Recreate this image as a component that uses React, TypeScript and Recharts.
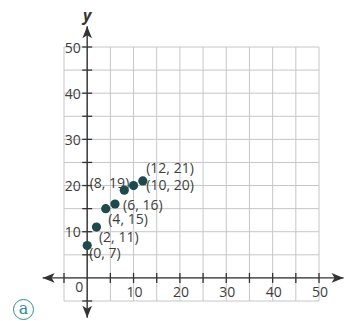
import { ReferenceDot, ReferenceLine, Scatter, ScatterChart, XAxis, YAxis } from "recharts";

// values
const pointX = [0, 2, 4, 6, 8, 10, 12];
const pointY = [7, 11, 15, 16, 19, 20, 21];
const gridTicks = [-5, 0, 5, 10, 15, 20, 25, 30, 35, 40, 45, 50];
const axisMarks = [-5, 5, 10, 15, 20, 25, 30, 35, 40, 45, 50];
const xTickLabels = [10, 20, 30, 40, 50];
const yTickLabels = [10, 20, 30, 40, 50];
const xAxisEnds = [-9.6, 55.3];
const yAxisEnds = [-8.6, 54.5];

// where each point's "(x, y)" label sits relative to its dot
const labelOffsets: [number, number, "start" | "end"][] = [
  [2, 7, "start"],
  [2.5, 9.5, "start"],
  [2.5, 9.5, "start"],
  [8, 0, "start"],
  [5, -8, "end"],
  [12.7, -1, "start"],
  [3.4, -13.4, "start"],
];

const points = pointX.map((x, i) => ({ x, y: pointY[i] }));

const axisColor = "#333333";
const gridColor = "#c6c6c6";
const textColor = "#3d3d3d";
const dotColor = "#1f4a4c";
const fontFamily = "'Open Sans', sans-serif";

function PointLabel(props: any) {
  const { cx, cy, payload } = props;
  const i = pointX.indexOf(payload.x);
  const [dx, dy, anchor] = labelOffsets[i] ?? [4, 0, "start"];
  return (
    <text
      x={cx + dx}
      y={cy + dy}
      textAnchor={anchor}
      dominantBaseline="central"
      fontSize={14}
      fontFamily={fontFamily}
      fill={textColor}
    >
      ({payload.x}, {payload.y})
    </text>
  );
}

function PointDot(props: any) {
  return <circle cx={props.cx} cy={props.cy} r={4.6} fill={dotColor} />;
}

function XMark(props: any) {
  const { cx, cy } = props;
  return <line x1={cx} x2={cx} y1={cy - 5} y2={cy + 5} stroke={axisColor} strokeWidth={1.3} />;
}

function YMark(props: any) {
  const { cx, cy } = props;
  return <line x1={cx - 5} x2={cx + 5} y1={cy} y2={cy} stroke={axisColor} strokeWidth={1.3} />;
}

function arrow(dir: "up" | "down" | "left" | "right") {
  return (props: any) => {
    const { cx, cy } = props;
    const len = 12;
    const half = 4.8;
    const notch = 9;
    let pts = "";
    if (dir === "up") pts = `${cx},${cy} ${cx - half},${cy + len} ${cx},${cy + notch} ${cx + half},${cy + len}`;
    if (dir === "down") pts = `${cx},${cy} ${cx - half},${cy - len} ${cx},${cy - notch} ${cx + half},${cy - len}`;
    if (dir === "left") pts = `${cx},${cy} ${cx + len},${cy - half} ${cx + notch},${cy} ${cx + len},${cy + half}`;
    if (dir === "right") pts = `${cx},${cy} ${cx - len},${cy - half} ${cx - notch},${cy} ${cx - len},${cy + half}`;
    return (
      <g>
        <polygon points={pts} fill={axisColor} />
        {dir === "up" && (
          <text
            x={cx}
            y={cy - 11}
            textAnchor="middle"
            dominantBaseline="central"
            fontSize={16}
            fontWeight="bold"
            fontStyle="italic"
            fontFamily={fontFamily}
            fill={axisColor}
          >
            y
          </text>
        )}
      </g>
    );
  };
}

function XLabel(props: any) {
  const { cx, cy, label } = props;
  return (
    <text x={cx + 1} y={cy + 14} textAnchor="middle" dominantBaseline="central" fontSize={14} fontFamily={fontFamily} fill={textColor}>
      {label}
    </text>
  );
}

function YLabel(props: any) {
  const { cx, cy, label } = props;
  return (
    <text x={cx - 6.5} y={cy} textAnchor="end" dominantBaseline="central" fontSize={14} fontFamily={fontFamily} fill={textColor}>
      {label}
    </text>
  );
}

function OriginLabel(props: any) {
  const { cx, cy } = props;
  return (
    <text x={cx - 8} y={cy + 9} textAnchor="middle" dominantBaseline="central" fontSize={14} fontFamily={fontFamily} fill={textColor}>
      0
    </text>
  );
}

export default function App() {
  return (
    <div style={{ position: "absolute", left: 0, top: 0, width: 347, height: 321, background: "#fff" }}>
      <ScatterChart width={347} height={321} margin={{ top: 47, right: 28, bottom: 20, left: 64 }}>
        <XAxis type="number" dataKey="x" domain={[-5, 50]} allowDataOverflow hide />
        <YAxis type="number" dataKey="y" domain={[-5, 50]} allowDataOverflow hide />
        {gridTicks.map((v) => (
          <ReferenceLine key={`gx${v}`} x={v} stroke={gridColor} strokeWidth={1} ifOverflow="visible" />
        ))}
        {gridTicks.map((v) => (
          <ReferenceLine key={`gy${v}`} y={v} stroke={gridColor} strokeWidth={1} ifOverflow="visible" />
        ))}
        <ReferenceLine
          segment={[{ x: xAxisEnds[0], y: 0 }, { x: xAxisEnds[1], y: 0 }]}
          stroke={axisColor}
          strokeWidth={1.4}
          ifOverflow="visible"
        />
        <ReferenceLine
          segment={[{ x: 0, y: yAxisEnds[0] }, { x: 0, y: yAxisEnds[1] }]}
          stroke={axisColor}
          strokeWidth={1.4}
          ifOverflow="visible"
        />
        {axisMarks.map((v) => (
          <ReferenceDot key={`xm${v}`} x={v} y={0} ifOverflow="visible" shape={XMark} />
        ))}
        {axisMarks.map((v) => (
          <ReferenceDot key={`ym${v}`} x={0} y={v} ifOverflow="visible" shape={YMark} />
        ))}
        {xTickLabels.map((v) => (
          <ReferenceDot key={`xl${v}`} x={v} y={0} ifOverflow="visible" shape={(p: any) => <XLabel {...p} label={v} />} />
        ))}
        {yTickLabels.map((v) => (
          <ReferenceDot key={`yl${v}`} x={0} y={v} ifOverflow="visible" shape={(p: any) => <YLabel {...p} label={v} />} />
        ))}
        <ReferenceDot x={0} y={0} ifOverflow="visible" shape={OriginLabel} />
        <ReferenceDot x={xAxisEnds[0]} y={0} ifOverflow="visible" shape={arrow("left")} />
        <ReferenceDot x={xAxisEnds[1]} y={0} ifOverflow="visible" shape={arrow("right")} />
        <ReferenceDot x={0} y={yAxisEnds[0]} ifOverflow="visible" shape={arrow("down")} />
        <ReferenceDot x={0} y={yAxisEnds[1]} ifOverflow="visible" shape={arrow("up")} />
        <Scatter data={points} shape={PointLabel} isAnimationActive={false} />
        <Scatter data={points} shape={PointDot} isAnimationActive={false} />
      </ScatterChart>
      <div
        style={{
          position: "absolute",
          left: 13,
          top: 299,
          width: 19,
          height: 19,
          border: "1.5px solid #2e8d95",
          borderRadius: "50%",
          color: "#2e8d95",
          fontFamily: "'DejaVu Serif', serif",
          fontSize: 16,
          lineHeight: "17px",
          textAlign: "center",
        }}
      >
        a
      </div>
    </div>
  );
}
